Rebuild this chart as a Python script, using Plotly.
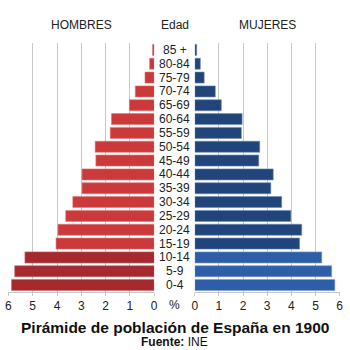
import plotly.graph_objects as go

# Age groups, youngest first (bottom of the pyramid)
edades = ["0-4", "5-9", "10-14", "15-19", "20-24", "25-29", "30-34", "35-39",
          "40-44", "45-49", "50-54", "55-59", "60-64", "65-69", "70-74",
          "75-79", "80-84", "85 +"]

# Share of total population (%), España 1900
hombres = [5.87, 5.74, 5.32, 4.04, 3.96, 3.64, 3.35, 2.97, 2.97, 2.40,
           2.43, 1.81, 1.76, 1.02, 0.78, 0.38, 0.19, 0.07]
mujeres = [5.80, 5.67, 5.26, 4.34, 4.43, 3.98, 3.60, 3.15, 3.25, 2.65,
           2.69, 1.93, 1.96, 1.10, 0.85, 0.39, 0.23, 0.08]

ticks = [0, 1, 2, 3, 4, 5, 6]

# Children (0-14) drawn in a different shade
ninos = {"0-4", "5-9", "10-14"}
col_h = ["#a5292d" if e in ninos else "#cc393b" for e in edades]
col_m = ["#2f5ea8" if e in ninos else "#21457b" for e in edades]
borde_h = ["#c46a6c" if e in ninos else "#de7a7c" for e in edades]
borde_m = ["#7d9ccc" if e in ninos else "#6f8bb5" for e in edades]

fig = go.Figure()
fig.add_trace(go.Bar(y=edades, x=hombres, orientation="h", xaxis="x", yaxis="y",
                     marker=dict(color=col_h, line=dict(color=borde_h, width=0.6)),
                     width=0.8, showlegend=False, hoverinfo="x+y"))
fig.add_trace(go.Bar(y=edades, x=mujeres, orientation="h", xaxis="x2", yaxis="y",
                     marker=dict(color=col_m, line=dict(color=borde_m, width=0.6)),
                     width=0.8, showlegend=False, hoverinfo="x+y"))

W = 350.0
grid = "#c8c8c8"
axis_common = dict(tickvals=ticks, ticktext=[str(t) for t in ticks],
                   showgrid=True, gridcolor=grid, gridwidth=1,
                   zeroline=False, showline=True, linecolor=grid,
                   ticks="outside", ticklen=3, tickcolor=grid,
                   tickfont=dict(family="Liberation Sans, Arial", size=12, color="#222"),
                   fixedrange=True)

fig.update_layout(
    width=350, height=350,
    margin=dict(l=0, r=0, t=0, b=0),
    paper_bgcolor="white", plot_bgcolor="white",
    bargap=0.2,
    xaxis=dict(domain=[5.5 / W, 154.3 / W], range=[6, 0], anchor="y", **axis_common),
    xaxis2=dict(domain=[195.7 / W, 343.5 / W], range=[0, 6], anchor="y", **axis_common),
    yaxis=dict(domain=[(350 - 292) / 350, (350 - 43) / 350], range=[-0.5, 17.5],
               showticklabels=False, showgrid=False, zeroline=False,
               showline=False, ticks="", fixedrange=True,
               categoryorder="array", categoryarray=edades),
)

font = dict(family="Liberation Sans, Arial", size=12, color="#222")

# Age labels in the central column
for e in edades:
    fig.add_annotation(x=175 / W, xref="paper", y=e, yref="y", text=e,
                       showarrow=False, font=font, xanchor="center", yanchor="middle")

# Column headings
for txt, xp in [("HOMBRES", 80), ("Edad", 175), ("MUJERES", 270)]:
    fig.add_annotation(x=xp / W, xref="paper", y=(350 - 25) / 350, yref="paper",
                       text=txt, showarrow=False, font=font,
                       xanchor="center", yanchor="middle")

# Unit marker between the two axes
fig.add_annotation(x=175 / W, xref="paper", y=(350 - 305) / 350, yref="paper",
                   text="%", showarrow=False, font=font,
                   xanchor="center", yanchor="middle")

# Title and source
fig.add_annotation(x=175 / W, xref="paper", y=(350 - 327.5) / 350, yref="paper",
                   text="<b>Pirámide de población de España en 1900</b>",
                   showarrow=False,
                   font=dict(family="Liberation Sans, Arial", size=15.5, color="#111"),
                   xanchor="center", yanchor="middle")
fig.add_annotation(x=175 / W, xref="paper", y=0, yref="paper",
                   text="<b>Fuente:</b> INE", showarrow=False,
                   font=dict(family="Liberation Sans, Arial", size=12, color="#111"),
                   xanchor="center", yanchor="bottom", yshift=-1)

fig.write_html("out.html")
